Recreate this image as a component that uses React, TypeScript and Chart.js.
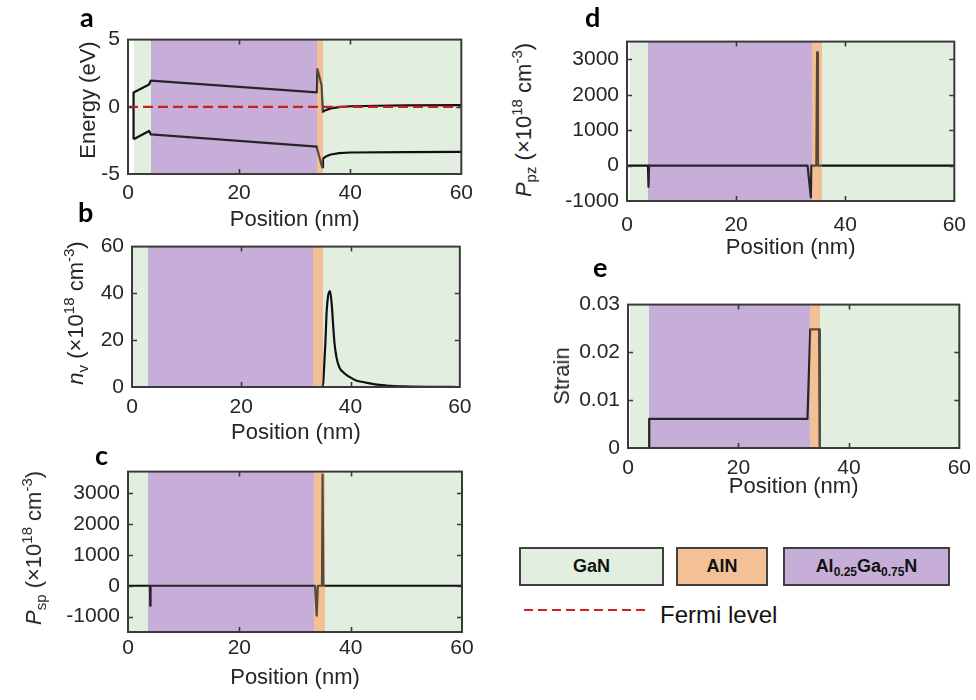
import React, { useEffect, useRef } from 'react';
import { Chart, registerables } from 'chart.js';

Chart.register(...registerables);

const FONT = "'Liberation Sans', Arial, Helvetica, sans-serif";
const LETTER_FONT = "Lato, 'Open Sans', sans-serif";
const TEXT = '#262626';

// ---------- shared axis ----------
const positionTicks = [0, 20, 40, 60];

// ---------- panel a: band diagram ----------
const energyTicks = [-5, 0, 5];
const cbPos = [1, 1, 3.8, 4.1, 34.0, 34.1, 34.85, 35.05, 35.6, 36.5, 38, 40, 45, 50, 60];
const cbEnergy = [-2.42, 1.07, 1.66, 1.95, 1.07, 2.8, 1.6, -0.38, -0.25, -0.12, -0.02, 0.04, 0.08, 0.1, 0.12];
const vbPos = [1, 3.8, 4.1, 34.0, 34.1, 34.95, 35.1, 35.6, 36.5, 38, 40, 50, 60];
const vbEnergy = [-2.42, -1.8, -2.05, -2.96, -3.2, -4.5, -3.85, -3.7, -3.55, -3.45, -3.4, -3.37, -3.36];
const fermiPos = [0, 60];
const fermiEnergy = [0, 0];
const bandsA = [['GaN', 1, 4.1], ['AlGaN', 4.1, 34.1], ['AlN', 34.1, 35.1], ['GaN', 35.1, 60]];

// ---------- panel b: n_v ----------
const nvTicks = [0, 20, 40, 60];
const nvPos = [0, 34.8, 35.0, 35.16, 35.4, 35.64, 35.9, 36.25, 36.6, 36.8, 37.04, 37.4, 37.95, 38.8, 39.8, 41, 42.8, 44.5, 46.5, 50, 55, 60];
const nvVal = [0, 0, 2, 8.4, 19.3, 32.8, 39, 41, 34, 27, 19.3, 13, 8.4, 6, 4.3, 2.8, 1.9, 1.1, 0.65, 0.25, 0.05, 0];
const bandsB = [['GaN', 0, 2.85], ['AlGaN', 2.85, 33.2], ['AlN', 33.2, 34.9], ['GaN', 34.9, 60]];

// ---------- panel c: P_sp ----------
const pspTicks = [-1000, 0, 1000, 2000, 3000];
const pspPos = [0, 3.95, 4.0, 4.05, 33.6, 33.9, 34.1, 34.85, 34.95, 35.1, 60];
const pspVal = [0, 0, -650, 0, 0, -970, 0, 0, 3600, 0, 0];
const bandsC = [['GaN', 0, 3.6], ['AlGaN', 3.6, 33.5], ['AlN', 33.5, 35.4], ['GaN', 35.4, 60]];

// ---------- panel d: P_pz ----------
const ppzTicks = [-1000, 0, 1000, 2000, 3000];
const ppzPos = [0, 3.85, 3.95, 4.05, 33.1, 33.7, 33.8, 34.7, 34.85, 35.0, 60];
const ppzVal = [0, 0, -600, 0, 0, -900, 0, 0, 3200, 0, 0];
const bandsD = [['GaN', 0.6, 3.9], ['AlGaN', 3.9, 33.9], ['AlN', 33.9, 35.7], ['GaN', 35.7, 60]];

// ---------- panel e: strain ----------
const strainTicks = [0, 0.01, 0.02, 0.03];
const strainPos = [0, 3.85, 3.85, 32.5, 33.0, 34.6, 34.7, 60];
const strainVal = [0, 0, 0.0061, 0.0061, 0.0248, 0.0248, 0, 0];
const bandsE = [['GaN', 0.3, 3.85], ['AlGaN', 3.85, 33.0], ['AlN', 33.0, 34.75], ['GaN', 34.75, 60]];

const BAND_COLORS: Record<string, string> = {
  GaN: 'rgb(226,239,224)',
  AlN: 'rgb(244,192,150)',
  AlGaN: 'rgb(199,174,217)',
};
const TINT: Record<string, number> = { AlGaN: 0.13, AlN: 0.32 };

type Band = (string | number)[];
interface Series { xs: number[]; ys: number[]; color: string; dash?: number[]; width?: number; monotone?: boolean; order?: number }
interface PanelProps {
  area: [number, number, number, number];
  yMin: number; yMax: number; yTicks: number[];
  series: Series[]; bands: Band[];
  tickPad: number; titleOffset: number; tintBefore?: number;
}

function makeDecor(bands: Band[], tintBefore?: number) {
  const tint = (chart: any) => {
    const { ctx, chartArea: ca, scales } = chart;
    const x = scales.x;
    ctx.save();
    for (const b of bands) {
      const kind = b[0] as string;
      const a = TINT[kind];
      if (!a) continue;
      const x0 = Math.round(x.getPixelForValue(b[1] as number));
      const x1 = Math.round(x.getPixelForValue(b[2] as number));
      ctx.globalAlpha = a;
      ctx.fillStyle = BAND_COLORS[kind];
      ctx.fillRect(x0, ca.top, x1 - x0, ca.bottom - ca.top);
    }
    ctx.restore();
  };
  return {
    id: 'decor',
    beforeDatasetsDraw(chart: any) {
      const { ctx, chartArea: ca, scales } = chart;
      const x = scales.x;
      ctx.save();
      for (const b of bands) {
        const x0 = Math.round(x.getPixelForValue(b[1] as number));
        const x1 = Math.round(x.getPixelForValue(b[2] as number));
        ctx.fillStyle = BAND_COLORS[b[0] as string];
        ctx.fillRect(x0, ca.top, x1 - x0, ca.bottom - ca.top);
      }
      ctx.restore();
    },
    beforeDatasetDraw(chart: any, args: any) {
      if (tintBefore !== undefined && args.index === tintBefore) tint(chart);
    },
    afterDatasetsDraw(chart: any) {
      if (tintBefore === undefined) tint(chart);
      const { ctx, chartArea: ca, scales } = chart;
      const x = scales.x, y = scales.y;
      ctx.save();
      ctx.strokeStyle = '#3a3a3a';
      ctx.lineWidth = 1.6;
      const TL = 5;
      ctx.beginPath();
      for (const t of x.ticks) {
        const px = Math.round(x.getPixelForValue(t.value)) + 0.5;
        if (px <= ca.left + 2 || px >= ca.right - 2) continue;
        ctx.moveTo(px, ca.bottom); ctx.lineTo(px, ca.bottom - TL);
        ctx.moveTo(px, ca.top); ctx.lineTo(px, ca.top + TL);
      }
      for (const t of y.ticks) {
        const py = Math.round(y.getPixelForValue(t.value)) + 0.5;
        if (py <= ca.top + 2 || py >= ca.bottom - 2) continue;
        ctx.moveTo(ca.left, py); ctx.lineTo(ca.left + TL, py);
        ctx.moveTo(ca.right, py); ctx.lineTo(ca.right - TL, py);
      }
      ctx.stroke();
      ctx.lineWidth = 2;
      ctx.strokeRect(ca.left, ca.top, ca.right - ca.left, ca.bottom - ca.top);
      ctx.restore();
    },
  };
}

function Panel(p: PanelProps) {
  const ref = useRef<HTMLCanvasElement>(null);
  const [L, T, R, B] = p.area;
  const YW = 80, PT = 14, PR = 18;
  const XH = Math.round(p.titleOffset + 13.2);
  const w = R - L + YW + PR;
  const h = B - T + PT + XH;
  useEffect(() => {
    const chart = new Chart(ref.current as HTMLCanvasElement, {
      type: 'line',
      data: {
        datasets: p.series.map((s) => ({
          data: s.xs.map((x, i) => ({ x, y: s.ys[i] })),
          borderColor: s.color,
          borderWidth: s.width ?? 2.2,
          borderDash: s.dash ?? [],
          borderJoinStyle: 'round',
          pointRadius: 0,
          fill: false,
          tension: 0,
          cubicInterpolationMode: s.monotone ? 'monotone' : 'default',
          order: s.order ?? 1,
        })),
      } as any,
      options: {
        responsive: false,
        animation: false,
        events: [],
        layout: { padding: { top: PT, right: PR, left: 0, bottom: 0 } },
        plugins: { legend: { display: false }, tooltip: { enabled: false } },
        scales: {
          x: {
            type: 'linear', min: 0, max: 60,
            afterBuildTicks: (s: any) => { s.ticks = positionTicks.map((v) => ({ value: v })); },
            afterFit: (s: any) => { s.height = XH; },
            grid: { display: false, drawTicks: false },
            border: { display: false },
            ticks: { font: { family: FONT, size: 21 }, color: TEXT, padding: p.tickPad, maxRotation: 0, autoSkip: false, callback: (v: any) => String(v) },
            title: { display: true, text: 'Position (nm)', font: { family: FONT, size: 22 }, color: TEXT, padding: { top: 0, bottom: 0 } },
          },
          y: {
            type: 'linear', min: p.yMin, max: p.yMax,
            afterBuildTicks: (s: any) => { s.ticks = p.yTicks.map((v) => ({ value: v })); },
            afterFit: (s: any) => { s.width = YW; },
            grid: { display: false, drawTicks: false },
            border: { display: false },
            ticks: { font: { family: FONT, size: 21 }, color: TEXT, padding: 8, autoSkip: false, callback: (v: any) => String(v) },
          },
        },
      } as any,
      plugins: [makeDecor(p.bands, p.tintBefore)],
    });
    return () => chart.destroy();
  }, []);
  return (
    <canvas
      ref={ref}
      width={w}
      height={h}
      style={{ position: 'absolute', left: L - YW, top: T - PT, width: w, height: h, display: 'block' }}
    />
  );
}

function VLabel({ cx, cy, children }: { cx: number; cy: number; children: any }) {
  return (
    <div style={{ position: 'absolute', left: cx, top: cy, transform: 'translate(-50%,-50%) rotate(-90deg)', whiteSpace: 'nowrap', fontFamily: FONT, fontSize: 22, color: TEXT, lineHeight: 1 }}>
      {children}
    </div>
  );
}

const Sup = ({ children }: any) => <span style={{ fontSize: 15, position: 'relative', top: -9 }}>{children}</span>;
const Sub = ({ children }: any) => <span style={{ fontSize: 15, position: 'relative', top: 5 }}>{children}</span>;

function Letter({ x, baseline, t }: { x: number; baseline: number; t: string }) {
  return (
    <div style={{ position: 'absolute', left: x, top: baseline - 24, fontFamily: LETTER_FONT, fontWeight: 'bold', fontSize: 27, lineHeight: 1, color: '#000' }}>{t}</div>
  );
}

function LegendBox({ x, w, color, children }: any) {
  return (
    <div style={{ position: 'absolute', left: x, top: 547, width: w, height: 39, boxSizing: 'border-box', border: '2px solid #404040', background: color, display: 'flex', alignItems: 'center', justifyContent: 'center', fontFamily: FONT, fontWeight: 'bold', fontSize: 18, color: '#111' }}>
      {children}
    </div>
  );
}

export default function App() {
  const unitLabel = (
    <>
      {' '}(×10<Sup>18</Sup> cm<Sup>-3</Sup>)
    </>
  );
  return (
    <div style={{ position: 'absolute', left: 0, top: 0, width: 976, height: 700, background: '#fff', overflow: 'hidden' }}>
      <Panel
        area={[128, 33, 462, 174]} yMin={-5} yMax={5} yTicks={energyTicks}
        bands={bandsA} tickPad={7} titleOffset={45.5} tintBefore={0}
        series={[
          { xs: fermiPos, ys: fermiEnergy, color: '#c8201e', dash: [10, 5], order: 0 },
          { xs: cbPos, ys: cbEnergy, color: '#111' },
          { xs: vbPos, ys: vbEnergy, color: '#111' },
        ]}
      />
      <Panel
        area={[132, 240, 461, 387]} yMin={0} yMax={60} yTicks={nvTicks}
        bands={bandsB} tickPad={7.5} titleOffset={46}
        series={[{ xs: nvPos, ys: nvVal, color: '#111', monotone: true }]}
      />
      <Panel
        area={[128, 465, 462, 632]} yMin={-1500} yMax={3700} yTicks={pspTicks}
        bands={bandsC} tickPad={3.5} titleOffset={46}
        series={[{ xs: pspPos, ys: pspVal, color: '#111' }]}
      />
      <Panel
        area={[627, 35, 960, 201]} yMin={-1000} yMax={3500} yTicks={ppzTicks}
        bands={bandsD} tickPad={12} titleOffset={46.5}
        series={[{ xs: ppzPos, ys: ppzVal, color: '#111' }]}
      />
      <Panel
        area={[628, 298, 961, 448]} yMin={0} yMax={0.03} yTicks={strainTicks}
        bands={bandsE} tickPad={8} titleOffset={38.5}
        series={[{ xs: strainPos, ys: strainVal, color: '#111' }]}
      />

      <VLabel cx={88} cy={100}>Energy (eV)</VLabel>
      <VLabel cx={76} cy={313}><i>n</i><Sub>v</Sub>{unitLabel}</VLabel>
      <VLabel cx={34} cy={548}><i>P</i><Sub>sp</Sub>{unitLabel}</VLabel>
      <VLabel cx={524} cy={120}><i>P</i><Sub>pz</Sub>{unitLabel}</VLabel>
      <VLabel cx={562} cy={376}>Strain</VLabel>

      <Letter x={80} baseline={27} t="a" />
      <Letter x={78} baseline={222} t="b" />
      <Letter x={95} baseline={465} t="c" />
      <Letter x={585} baseline={27} t="d" />
      <Letter x={593} baseline={277} t="e" />

      <LegendBox x={519} w={145} color={BAND_COLORS.GaN}>GaN</LegendBox>
      <LegendBox x={676} w={92} color={BAND_COLORS.AlN}>AlN</LegendBox>
      <LegendBox x={783} w={167} color={BAND_COLORS.AlGaN}>
        <span>Al<span style={{ fontSize: 12, position: 'relative', top: 4 }}>0.25</span>Ga<span style={{ fontSize: 12, position: 'relative', top: 4 }}>0.75</span>N</span>
      </LegendBox>
      <svg style={{ position: 'absolute', left: 524, top: 600 }} width={124} height={20}>
        <line x1={0} y1={10} x2={124} y2={10} stroke="#cc2222" strokeWidth={2} strokeDasharray="9 5" />
      </svg>
      <div style={{ position: 'absolute', left: 660, top: 624 - 21, fontFamily: FONT, fontSize: 24, lineHeight: 1, color: '#111', whiteSpace: 'nowrap' }}>Fermi level</div>
    </div>
  );
}
